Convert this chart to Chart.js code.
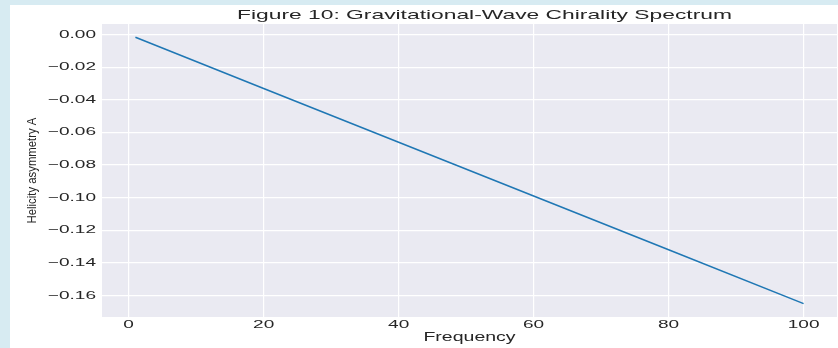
<!DOCTYPE html>
<html><head><meta charset="utf-8">
<script src="https://cdn.jsdelivr.net/npm/chart.js@4.4.1/dist/chart.umd.min.js"></script>
<style>
html,body{margin:0;padding:0;background:#d7ebf2;width:838px;height:348px;overflow:hidden}
#panel{position:absolute;left:10px;top:5px;width:828px;height:343px;background:#ffffff}
canvas{display:block}
</style></head>
<body>
<div id="panel"><canvas id="c" width="828" height="343" style="width:828px;height:343px"></canvas></div>
<script>
// ---- data ----
const frequency = [1, 20, 40, 60, 80, 100];
const helicityAsymmetry = [-0.00165, -0.033, -0.066, -0.099, -0.132, -0.165];
const xTicks = [0, 20, 40, 60, 80, 100];
const yTicks = [0.00, -0.02, -0.04, -0.06, -0.08, -0.10, -0.12, -0.14, -0.16];
const chartTitle = 'Figure 10: Gravitational-Wave Chirality Spectrum';
const xTitle = 'Frequency';
const yTitle = 'Helicity asymmetry A';

const FONT = '"Liberation Sans", Arial, Helvetica, sans-serif';
const TEXT = '#262626';

const canvas = document.getElementById('c');
const ctx = canvas.getContext('2d');

// horizontal text in the reference is drawn wide; stretch glyphs about their anchor
const stretchBySize = {11: 1.73, 13: 1.5, 13.5: 1.69};
const origFill = CanvasRenderingContext2D.prototype.fillText;
ctx.fillText = function (t, x, y, mw) {
  const m = this.getTransform();
  const rotated = Math.abs(m.b) > 1e-6;
  let s = 1;
  if (rotated) { s = 0.86; }
  else {
    const mm = /([\d.]+)px/.exec(this.font);
    if (mm && stretchBySize[parseFloat(mm[1])]) s = stretchBySize[parseFloat(mm[1])];
  }
  this.save();
  this.translate(x, y);
  this.scale(s, 1);
  if (mw === undefined) origFill.call(this, t, 0, 0);
  else origFill.call(this, t, 0, 0, mw / s);
  this.restore();
};

const plotBg = {
  id: 'plotBg',
  beforeDraw(chart) {
    const {ctx, chartArea: a} = chart;
    ctx.save();
    ctx.fillStyle = '#eaeaf2';
    ctx.fillRect(a.left, a.top, a.right - a.left, a.bottom - a.top);
    ctx.restore();
  },
  afterDraw(chart) {
    const c = chart.ctx;
    c.save();
    c.font = '13.5px ' + FONT;
    c.fillStyle = TEXT;
    c.textAlign = 'center';
    c.textBaseline = 'alphabetic';
    c.fillText(chartTitle, 474.5, 14);
    c.restore();
  }
};

new Chart(ctx, {
  type: 'line',
  data: {
    datasets: [{
      data: frequency.map((f, i) => ({x: f, y: helicityAsymmetry[i]})),
      borderColor: '#1f77b4',
      borderWidth: 1.6,
      pointRadius: 0,
      fill: false,
      tension: 0
    }]
  },
  options: {
    responsive: false,
    animation: false,
    devicePixelRatio: 1,
    layout: {padding: {top: 19, right: 1, left: 0, bottom: 0}},
    plugins: {legend: {display: false}, title: {display: false}, tooltip: {enabled: false}},
    scales: {
      x: {
        type: 'linear',
        min: -3.95, max: 104.95,
        afterBuildTicks: s => { s.ticks = xTicks.map(v => ({value: v})); },
        afterFit: s => { s.height = 31; },
        grid: {color: '#ffffff', lineWidth: 1.2, drawTicks: false},
        border: {display: false},
        ticks: {font: {family: FONT, size: 11}, color: TEXT, padding: 1.5, maxRotation: 0, autoSkip: false},
        title: {display: true, text: xTitle, font: {family: FONT, size: 13}, color: TEXT, padding: {top: 0, bottom: 3}}
      },
      y: {
        type: 'linear',
        min: -0.1732, max: 0.0065,
        afterBuildTicks: s => { s.ticks = yTicks.map(v => ({value: v})); },
        afterFit: s => { s.width = 92; },
        grid: {color: '#ffffff', lineWidth: 1.2, drawTicks: false},
        border: {display: false},
        ticks: {
          font: {family: FONT, size: 11}, color: TEXT, padding: 6, autoSkip: false,
          callback: v => (v < -1e-9 ? '\u2212' : '') + Math.abs(v).toFixed(2)
        },
        title: {display: true, text: yTitle, font: {family: FONT, size: 13.2}, color: TEXT, padding: {top: 14.5, bottom: 0}}
      }
    }
  },
  plugins: [plotBg]
});
</script>
</body></html>
